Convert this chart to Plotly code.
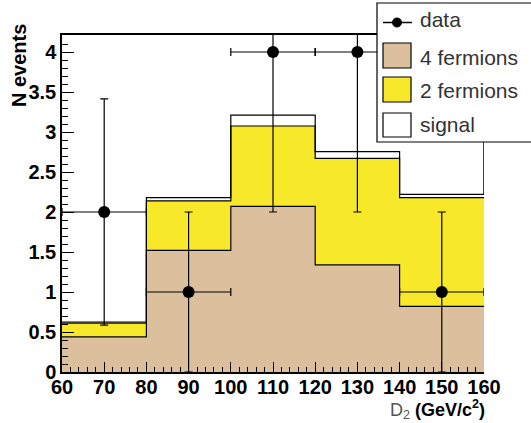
import plotly.graph_objects as go
import numpy as np

# ---- data ----
bin_edges = [60, 80, 100, 120, 140, 160]
bin_centers = [70, 90, 110, 130, 150]
four_fermions = [0.44, 1.52, 2.07, 1.34, 0.82]
two_fermions = [0.17, 0.62, 1.005, 1.33, 1.36]
signal = [0.015, 0.04, 0.135, 0.085, 0.04]
data_counts = [2, 1, 4, 4, 1]
data_err = [1.414, 1.0, 2.0, 2.0, 1.0]
data_xerr = [10, 10, 10, 10, 10]
x_ticks = [60, 70, 80, 90, 100, 110, 120, 130, 140, 150, 160]
y_ticks = [0, 0.5, 1, 1.5, 2, 2.5, 3, 3.5, 4]
y_tick_labels = ["0", "0.5", "1", "1.5", "2", "2.5", "3", "3.5", "4"]
legend_labels = ["data", "4 fermions", "2 fermions", "signal"]

BROWN = "#DCBF9C"
YELLOW = "#F7E92A"
W, H = 531, 423
ML, MR, MT, MB = 62, 47, 35, 51
PW, PH = W - ML - MR, H - MT - MB
YMAX = PH / 80.0
NARROW = "Liberation Sans Narrow, Arial Narrow, Liberation Sans, sans-serif"


def px(x):
    return (x - ML) / PW


def py(y):
    return (H - MB - y) / PH


fig = go.Figure()
fig.add_trace(go.Bar(x=bin_centers, y=four_fermions, width=20, marker=dict(color=BROWN, line=dict(width=0)),
                     showlegend=False))
fig.add_trace(go.Bar(x=bin_centers, y=two_fermions, width=20, marker=dict(color=YELLOW, line=dict(width=0)),
                     showlegend=False))
fig.add_trace(go.Bar(x=bin_centers, y=signal, width=20, marker=dict(color="white", line=dict(width=0)),
                     showlegend=False))

# step outlines of the stacked histograms
cum = np.zeros(len(bin_centers))
for comp in (four_fermions, two_fermions, signal):
    cum = cum + np.array(comp)
    ys = list(cum) + [cum[-1]]
    fig.add_trace(go.Scatter(x=bin_edges, y=ys, mode="lines", line=dict(color="black", width=1.2, shape="hv"),
                             showlegend=False, hoverinfo="skip"))

# data points
fig.add_trace(go.Scatter(
    x=bin_centers, y=data_counts, mode="markers",
    marker=dict(color="black", size=12),
    error_y=dict(type="data", array=data_err, color="black", thickness=1.2, width=4),
    error_x=dict(type="data", array=data_xerr, color="black", thickness=1.2, width=4),
    showlegend=False))

tick_font = dict(family=NARROW, size=20, color="black", weight="bold")
fig.update_layout(
    width=W, height=H, margin=dict(l=ML, r=MR, t=MT, b=MB),
    paper_bgcolor="white", plot_bgcolor="white", barmode="stack", bargap=0,
    xaxis=dict(range=[60, 160], tickvals=x_ticks, ticks="inside", ticklen=10, tickwidth=1.2, tickcolor="black",
               showline=True, linecolor="black", linewidth=1.5, mirror=True, showgrid=False, zeroline=False,
               tickfont=tick_font, ticklabelstandoff=-4,
               minor=dict(dtick=2, ticks="inside", ticklen=5, tickwidth=1, tickcolor="black", showgrid=False)),
    yaxis=dict(range=[0, YMAX], tickvals=y_ticks, ticktext=y_tick_labels,
               ticks="inside", ticklen=12, tickwidth=1.2, tickcolor="black",
               showline=True, linecolor="black", linewidth=1.5, mirror=False, showgrid=False, zeroline=False,
               tickfont=tick_font, ticklabelstandoff=0,
               minor=dict(dtick=0.1, ticks="inside", ticklen=6, tickwidth=1, tickcolor="black", showgrid=False)),
)

shapes = []
# right frame line (hidden by the histogram below its top)
shapes.append(dict(type="line", xref="x", yref="y", x0=bin_edges[-1], x1=bin_edges[-1],
                   y0=float(cum[-1]), y1=YMAX, line=dict(color="black", width=1.5)))
# legend box
shapes.append(dict(type="rect", xref="paper", yref="paper", x0=px(377), x1=px(545), y0=py(142), y1=py(3),
                   fillcolor="white", line=dict(color="black", width=1.2), layer="above"))
# data legend symbol
shapes.append(dict(type="line", xref="paper", yref="paper", x0=px(383), x1=px(412), y0=py(22.5), y1=py(22.5),
                   line=dict(color="black", width=1.5), layer="above"))
shapes.append(dict(type="circle", xref="paper", yref="paper", x0=px(392.5), x1=px(401.5), y0=py(27), y1=py(18),
                   fillcolor="black", line=dict(color="black", width=1), layer="above"))
# swatches
for (top, bot), col in zip([(43, 68), (77, 102), (113, 137)], [BROWN, YELLOW, "white"]):
    shapes.append(dict(type="rect", xref="paper", yref="paper", x0=px(383), x1=px(411), y0=py(bot), y1=py(top),
                       fillcolor=col, line=dict(color="black", width=1.2), layer="above"))
fig.update_layout(shapes=shapes)

ann = []
for lab, yc in zip(legend_labels, [19.5, 57, 90, 124]):
    ann.append(dict(text=lab, xref="paper", yref="paper", x=px(418), y=py(yc), xanchor="left", yanchor="middle",
                    showarrow=False, font=dict(family="Liberation Sans, Arial, sans-serif", size=21, color="#333333")))
ann.append(dict(text="N events", xref="paper", yref="paper", x=px(19), y=py(66), textangle=-90,
                xanchor="center", yanchor="middle", showarrow=False,
                font=dict(family=NARROW, size=20, color="black", weight="bold")))
ann.append(dict(text='<span style="color:#555555">D<sub>2</sub></span> <b>(GeV/c<sup>2</sup>)</b>',
                xref="paper", yref="paper", x=px(487), y=py(410), xanchor="right", yanchor="middle",
                showarrow=False, font=dict(family="Liberation Sans, Arial, sans-serif", size=18, color="black")))
fig.update_layout(annotations=ann)

fig.write_html("out.html")
